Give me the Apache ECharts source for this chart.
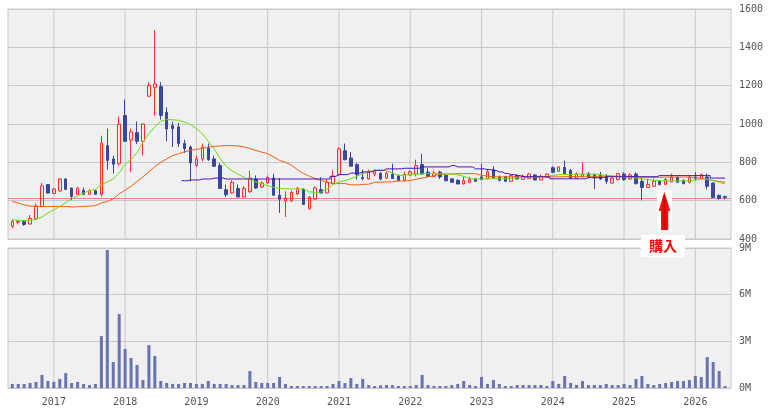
<!DOCTYPE html>
<html>
<head>
<meta charset="utf-8">
<script src="https://cdn.jsdelivr.net/npm/echarts@6/dist/echarts.min.js"></script>
<style>
  html, body { margin: 0; padding: 0; background: #fff; }
  #chart { width: 768px; height: 411px; }
</style>
</head>
<body>
<div id="chart"></div>
<script>
// 月足 2016/06 〜 2026/06 (index 0..120)
const yearIdx = [7, 19, 31, 43, 55, 67, 79, 91, 103, 115];
const yearLabels = ['2017', '2018', '2019', '2020', '2021', '2022', '2023', '2024', '2025', '2026'];

const open = [466,488,494,478,506,570,684,638,651,713,666,633,654,633,652,633,887,818,793,1044,
  917,955,910,1145,1191,1195,1061,992,985,898,880,784,818,875,818,783,657,640,663,619,
  648,713,671,692,718,629,598,598,635,661,558,608,657,640,689,736,861,823,788,722,
  713,739,742,718,737,732,708,734,739,788,749,727,749,732,714,706,687,696,714,724,
  714,762,724,725,701,732,711,716,734,708,722,772,753,774,758,716,724,739,736,731,
  731,692,710,739,713,739,701,669,675,701,685,698,722,706,696,724,714,724,692,628,622];
const close = [492,492,476,507,572,677,640,661,713,659,622,666,633,652,633,901,810,790,1000,910,
  959,910,1000,1200,1209,1045,974,976,898,871,797,818,880,814,780,664,631,696,619,663,
  718,666,692,722,628,607,614,643,665,580,619,666,640,696,727,870,814,780,736,715,
  748,751,713,742,716,704,737,751,783,739,727,744,724,704,696,687,706,711,701,710,
  751,718,706,701,731,713,727,739,708,727,739,748,776,741,718,739,739,722,718,713,
  701,718,741,710,734,689,669,685,701,684,710,724,696,689,722,717,736,675,617,611,617];
const low = [457,476,469,476,503,568,637,635,647,655,602,630,632,632,632,622,762,741,783,908,
  750,895,836,1140,1045,1023,910,880,880,849,701,776,805,808,776,662,619,636,619,619,
  640,661,666,687,626,536,515,593,630,578,553,605,638,638,687,732,810,780,710,706,
  710,727,706,714,714,702,701,731,727,737,725,722,713,701,694,685,685,692,699,708,
  712,716,701,699,699,711,709,714,706,706,720,744,751,739,713,714,722,718,661,708,
  687,690,708,704,708,684,602,667,673,680,683,696,694,685,690,704,712,659,615,605,607];
const high = [501,497,499,525,584,692,687,666,718,718,668,671,669,659,656,939,976,835,1039,1127,
  976,1013,1002,1218,1489,1218,1087,1013,1006,918,887,835,898,898,835,797,684,706,685,675,
  757,732,701,731,741,718,649,652,671,664,624,675,722,710,758,880,898,854,797,762,
  762,762,751,751,793,737,751,758,814,845,771,757,756,739,716,712,724,724,718,793,
  765,779,731,730,735,737,737,744,739,736,744,779,778,809,766,748,800,750,740,750,
  739,722,743,748,743,748,722,715,716,708,718,741,727,711,732,748,741,742,695,631,623];

// 移動平均線
const maShort = [501,498,494,497,503,515,536,552,570,590,610,625,640,652,657,685,698,713,745,790,
  815,850,905,950,985,1015,1023,1022,1019,1010,997,975,950,910,870,820,780,755,738,722,
  710,698,688,678,670,663,662,661,661,661,648,640,645,660,684,696,705,715,727,740,
  753,758,762,755,745,731,733,737,739,740,741,741,740,739,739,735,727,715,713,713,
  714,714,714,714,716,718,722,725,725,725,728,731,736,736,736,739,739,739,739,736,
  732,729,726,724,721,718,714,710,707,704,703,703,703,703,704,708,713,711,704,696,687];
const maLong = [596,588,578,572,570,570,570,570,570,570,567,568,570,572,574,588,596,610,635,655,
  675,700,725,750,778,800,818,835,845,855,862,868,873,880,883,886,887,887,886,880,
  872,862,853,845,828,810,800,785,762,742,728,715,705,697,690,689,689,683,682,685,
  686,696,696,698,698,703,703,705,712,718,724,730,739,739,739,741,741,741,741,732,
  728,724,724,724,724,724,724,724,724,724,724,724,724,725,726,726,727,727,727,727,
  727,727,727,727,726,725,723,722,722,722,723,723,723,723,723,722,715,712,706,700,696];
const maStep = [null,null,null,null,null,null,null,null,null,null,null,null,null,null,null,null,null,null,null,null,
  null,null,null,null,null,null,null,null,null,704,708,708,713,713,718,718,713,713,713,713,
  713,713,713,713,713,713,713,713,713,713,713,713,713,713,727,736,736,744,744,750,
  750,758,758,766,766,766,769,769,769,776,776,776,776,776,783,776,776,776,766,766,
  762,757,750,742,736,731,725,725,725,725,725,714,714,714,714,714,714,720,720,720,
  725,725,725,725,725,725,725,725,725,731,731,731,731,731,731,731,731,731,718,718,718];

// 出来高 (百万株)
const volume = [0.26,0.26,0.26,0.32,0.39,0.84,0.45,0.39,0.58,0.96,0.32,0.39,0.26,0.19,0.26,
  3.34,8.87,1.67,4.75,2.51,1.93,1.48,0.51,2.76,2.06,
  0.45,0.32,0.26,0.26,0.32,0.32,0.26,0.26,0.45,0.26,0.26,0.26,0.19,0.19,0.19,
  1.09,0.39,0.32,0.32,0.32,0.71,0.26,0.13,0.13,0.13,0.13,0.13,0.13,0.13,
  0.26,0.45,0.32,0.64,0.26,0.58,0.19,0.13,
  0.17,0.19,0.19,0.13,0.13,0.13,0.19,0.84,
  0.19,0.13,0.13,0.13,0.19,0.26,0.45,0.19,0.13,
  0.71,0.26,0.51,0.26,0.13,0.13,0.19,0.19,0.19,0.19,0.19,0.13,
  0.45,0.26,0.77,0.32,0.19,0.45,0.19,0.19,0.19,0.26,0.19,0.19,0.26,0.19,
  0.58,0.77,0.26,0.19,0.26,0.32,0.39,0.45,0.45,0.51,0.77,0.71,1.99,1.67,1.09,0.13];

const buyPrice = 615;

const FONT = '"DejaVu Sans Mono", monospace';
const GRID_LINE = '#c8c8c8';
const X_MIN = -0.72, X_MAX = 121;
const PRICE_MIN = 400, PRICE_MAX = 1600;
const VOL_MIN = 0, VOL_MAX = 9;

const chart = echarts.init(document.getElementById('chart'));

// 年の縦グリッド線 (途切れ線で1本ずつ)
const yearGrid = (lo, hi) => yearIdx.flatMap(v => [[v, lo], [v, hi], [v, null]]);
const gridSeries = (axis, lo, hi) => ({
  type: 'line', xAxisIndex: axis, yAxisIndex: axis, z: 1, silent: true,
  data: yearGrid(lo, hi), showSymbol: false, connectNulls: false,
  lineStyle: { color: GRID_LINE, width: 1 }
});

const option = {
  animation: false,
  backgroundColor: '#fff',
  grid: [
    { left: 8, right: 37, top: 9, height: 230, show: true, backgroundColor: '#f0f0f0', borderColor: GRID_LINE, borderWidth: 1 },
    { left: 8, right: 37, top: 248, height: 140, show: true, backgroundColor: '#f0f0f0', borderColor: GRID_LINE, borderWidth: 1 }
  ],
  xAxis: [
    {
      type: 'value', gridIndex: 0, min: X_MIN, max: X_MAX,
      axisLabel: { show: false }, axisTick: { show: false }, axisLine: { show: false }, splitLine: { show: false }
    },
    {
      type: 'value', gridIndex: 1, min: X_MIN, max: X_MAX,
      axisLabel: {
        customValues: yearIdx,
        formatter: v => yearLabels[yearIdx.indexOf(v)] || '',
        fontFamily: FONT, fontSize: 10, color: '#555', margin: 9
      },
      axisTick: { show: false }, axisLine: { show: false }, splitLine: { show: false }
    }
  ],
  yAxis: [
    {
      type: 'value', gridIndex: 0, position: 'right', min: PRICE_MIN, max: PRICE_MAX, interval: 200,
      axisLabel: { fontFamily: FONT, fontSize: 10, color: '#555', margin: 8, formatter: v => String(v) },
      axisTick: { show: true, length: 5, lineStyle: { color: GRID_LINE } },
      axisLine: { show: false },
      splitLine: { lineStyle: { color: GRID_LINE } }
    },
    {
      type: 'value', gridIndex: 1, position: 'right', min: VOL_MIN, max: VOL_MAX, interval: 3,
      axisLabel: { fontFamily: FONT, fontSize: 10, color: '#555', margin: 8, formatter: v => v + 'M' },
      axisTick: { show: true, length: 5, lineStyle: { color: GRID_LINE } },
      axisLine: { show: false },
      splitLine: { lineStyle: { color: GRID_LINE } }
    }
  ],
  series: [
    gridSeries(0, PRICE_MIN, PRICE_MAX),
    gridSeries(1, VOL_MIN, VOL_MAX),
    {
      type: 'candlestick', xAxisIndex: 0, yAxisIndex: 0, z: 6,
      dimensions: ['idx', 'open', 'close', 'lowest', 'highest'],
      encode: { x: 'idx', y: ['open', 'close', 'lowest', 'highest'] },
      data: open.map((o, i) => [i, o, close[i], low[i], high[i]]),
      barWidth: 3,
      itemStyle: {
        color: 'rgba(0,0,0,0)', borderColor: '#ff2a2a',
        color0: '#3a479c', borderColor0: '#3a479c',
        borderWidth: 1
      },
      markLine: {
        silent: true, symbol: ['none', 'none'],
        label: { show: false },
        lineStyle: { color: '#f08484', width: 1, type: 'solid' },
        data: [[{ coord: [X_MIN, buyPrice] }, { coord: [X_MAX, buyPrice] }]]
      }
    },
    {
      type: 'line', xAxisIndex: 0, yAxisIndex: 0, name: 'maLong', z: 7,
      data: maLong.map((v, i) => [i, v]),
      showSymbol: false, lineStyle: { color: '#f06010', width: 1 }
    },
    {
      type: 'line', xAxisIndex: 0, yAxisIndex: 0, name: 'maShort', z: 7,
      data: maShort.map((v, i) => [i, v]),
      showSymbol: false, lineStyle: { color: '#66e010', width: 1 }
    },
    {
      type: 'line', xAxisIndex: 0, yAxisIndex: 0, name: 'maStep', z: 7,
      data: maStep.map((v, i) => [i, v]),
      step: 'middle', showSymbol: false, lineStyle: { color: '#4a10c0', width: 1 }
    },
    {
      type: 'bar', xAxisIndex: 1, yAxisIndex: 1, z: 6,
      data: volume.map((v, i) => [i, v]),
      barWidth: 3,
      itemStyle: { color: '#6a72b0' }
    }
  ],
  graphic: [
    { type: 'rect', z: 100, shape: { x: 657, y: 190, width: 15, height: 42 }, style: { fill: '#fff' } },
    {
      type: 'polygon', z: 101,
      shape: { points: [[664.3, 192], [670.5, 211], [668.3, 211], [668.3, 230], [661, 230], [661, 211], [658.5, 211]] },
      style: {
        fill: new echarts.graphic.LinearGradient(0, 0, 1, 0, [
          { offset: 0, color: '#ff3030' }, { offset: 0.5, color: '#e00000' }, { offset: 1, color: '#ff3030' }
        ])
      }
    },
    { type: 'rect', z: 100, shape: { x: 641, y: 235, width: 44, height: 22 }, style: { fill: '#fff' } },
    {
      type: 'text', z: 101, x: 663, y: 246,
      style: {
        text: '購入', fill: '#ff0000', font: 'bold 14px "Noto Sans CJK JP"',
        align: 'center', verticalAlign: 'middle'
      }
    }
  ]
};

chart.setOption(option);
</script>
</body>
</html>
